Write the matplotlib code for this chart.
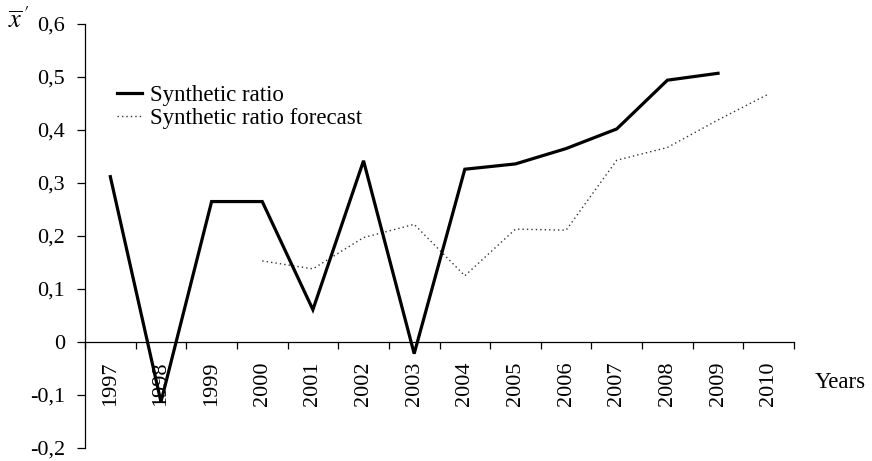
import matplotlib
matplotlib.use("Agg")
import matplotlib.pyplot as plt
import numpy as np

years = ["1997", "1998", "1999", "2000", "2001", "2002", "2003",
         "2004", "2005", "2006", "2007", "2008", "2009", "2010"]
synthetic = [0.312, -0.113, 0.265, 0.265, 0.061, 0.342, -0.022,
             0.326, 0.336, 0.365, 0.402, 0.494, 0.507, None]
forecast = [None, None, None, 0.153, 0.138, 0.197, 0.222,
            0.125, 0.213, 0.211, 0.343, 0.367, 0.419, 0.468]
yticks = [-0.2, -0.1, 0.0, 0.1, 0.2, 0.3, 0.4, 0.5, 0.6]

plt.rcParams['font.family'] = ['Liberation Serif', 'DejaVu Serif']
plt.rcParams['mathtext.fontset'] = 'stix'

W, H = 872, 461
fig = plt.figure(figsize=(W/100, H/100), dpi=100)
ax = fig.add_axes([85/W, 13/H, (794-85)/W, (448-24)/H])

x = np.arange(len(years))
syn = np.array([np.nan if v is None else v for v in synthetic])
fc = np.array([np.nan if v is None else v for v in forecast])

ax.plot(x, fc, color='#333333', lw=1.0, ls=(0, (1, 2.2)),
        label='Synthetic ratio forecast', zorder=3)
ax.plot(x, syn, color='black', lw=2.3, solid_joinstyle='miter',
        label='Synthetic ratio', zorder=4)

ax.set_xlim(-0.5, len(years) - 0.5)
ax.set_ylim(-0.2, 0.6)

for s in ['top', 'right']:
    ax.spines[s].set_visible(False)
ax.spines['bottom'].set_position(('data', 0))
ax.spines['left'].set_linewidth(0.9)
ax.spines['bottom'].set_linewidth(0.9)

ax.set_yticks(yticks)
ax.set_yticklabels([('%.1f' % v).replace('.', ',') if v != 0 else '0'
                    for v in yticks], fontsize=16)
ax.tick_params(axis='y', direction='out', length=5.8, width=0.9, pad=8.5)

ax.set_xticks(x)
ax.set_xticklabels(years, rotation=90, fontsize=16, va='top')
ax.set_xticks(np.arange(-0.5, len(years)), minor=True)
ax.tick_params(axis='x', which='major', length=0, pad=14)
ax.tick_params(axis='x', which='minor', direction='out', length=5, width=0.9)

handles, labels = ax.get_legend_handles_labels()
ax.legend(handles[::-1], labels[::-1], loc='upper left',
          bbox_to_anchor=(117/W, 1 - 85/H), bbox_transform=fig.transFigure,
          frameon=False, fontsize=16.5, handlelength=1.1, handletextpad=0.35,
          labelspacing=0.1, borderpad=0, borderaxespad=0)

fig.text(815/W, 1 - 382/H, 'Years', fontsize=16.5, va='center', ha='left')
fig.text(8/W, 1 - 20/H, r'$\overline{x}^{\,\prime}$', fontsize=19,
         va='center', ha='left')

fig.savefig('out.png', dpi=100)
